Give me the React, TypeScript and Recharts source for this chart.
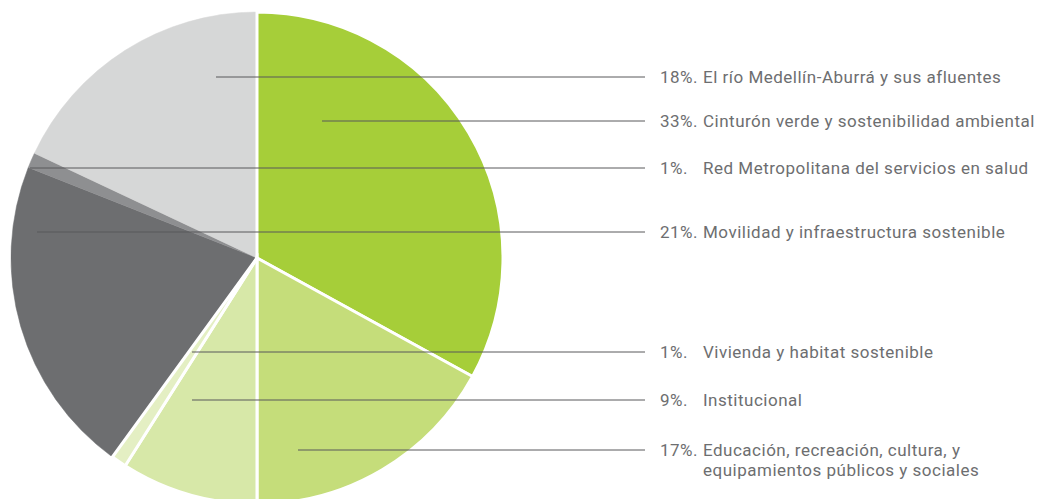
import React from "react";
import { PieChart, Pie, Cell } from "recharts";

// Slices in drawing order (starting with the gray group, clockwise)
const categories = [
  "Movilidad y infraestructura sostenible",
  "Red Metropolitana del servicios en salud",
  "El río Medellín-Aburrá y sus afluentes",
  "Cinturón verde y sostenibilidad ambiental",
  "Educación, recreación, cultura, y equipamientos públicos y sociales",
  "Institucional",
  "Vivienda y habitat sostenible",
];
const shares = [21, 1, 18, 33, 17, 9, 1];
const colors = ["#6d6e70", "#8e8f91", "#d6d7d7", "#a6ce39", "#c5dd7a", "#d7e8a8", "#e4efc3"];
const separated = [false, false, false, true, true, true, true];

// Legend (annotation) entries in the order shown on the right
const legendPct = ["18%.", "33%.", "1%.", "21%.", "1%.", "9%.", "17%."];
const legendText = [
  ["El río Medellín-Aburrá y sus afluentes"],
  ["Cinturón verde y sostenibilidad ambiental"],
  ["Red Metropolitana del servicios en salud"],
  ["Movilidad y infraestructura sostenible"],
  ["Vivienda y habitat sostenible"],
  ["Institucional"],
  ["Educación, recreación, cultura, y", "equipamientos públicos y sociales"],
];
// layout of leader lines
const legendY = [77, 121, 168, 232, 352, 400, 450];
const leaderStartX = [216, 322, 30, 37, 192, 192, 298];

const data = categories.map((name, i) => ({ name, value: shares[i] }));

const W = 1037;
const H = 499;
const CX = 257;
const CY = 258;
const R = 246;
const START = 90 - 216;
const FONT = "Roboto, 'DejaVu Sans', sans-serif";

export default function App() {
  return (
    <div style={{ position: "absolute", left: 0, top: 0, width: W, height: H, background: "#fff", overflow: "hidden" }}>
      <PieChart width={W} height={H} margin={{ top: 0, right: 0, bottom: 0, left: 0 }}>
        <Pie
          data={data}
          dataKey="value"
          nameKey="name"
          cx={CX}
          cy={CY}
          outerRadius={R}
          innerRadius={0}
          startAngle={START}
          endAngle={START - 360}
          isAnimationActive={false}
          label={false}
          labelLine={false}
        >
          {data.map((d, i) => (
            <Cell
              key={d.name}
              fill={colors[i]}
              stroke={separated[i] ? "#ffffff" : colors[i]}
              strokeWidth={separated[i] ? 3 : 0.5}
            />
          ))}
        </Pie>
      </PieChart>
      <svg
        width={W}
        height={H}
        style={{ position: "absolute", left: 0, top: 0, pointerEvents: "none" }}
      >
        {legendPct.map((p, i) => (
          <g key={i}>
            <line x1={leaderStartX[i]} y1={legendY[i]} x2={645} y2={legendY[i]} stroke="#58595b" strokeWidth={1} />
            <text x={660} y={legendY[i] + 6} fontFamily={FONT} fontSize={17} letterSpacing={0.5} fill="#6d6e70">
              {p}
            </text>
            {legendText[i].map((t, j) => (
              <text
                key={j}
                x={703}
                y={legendY[i] + 6 + j * 20}
                fontFamily={FONT}
                fontSize={17}
                letterSpacing={0.5}
                fill="#6d6e70"
              >
                {t}
              </text>
            ))}
          </g>
        ))}
      </svg>
    </div>
  );
}
